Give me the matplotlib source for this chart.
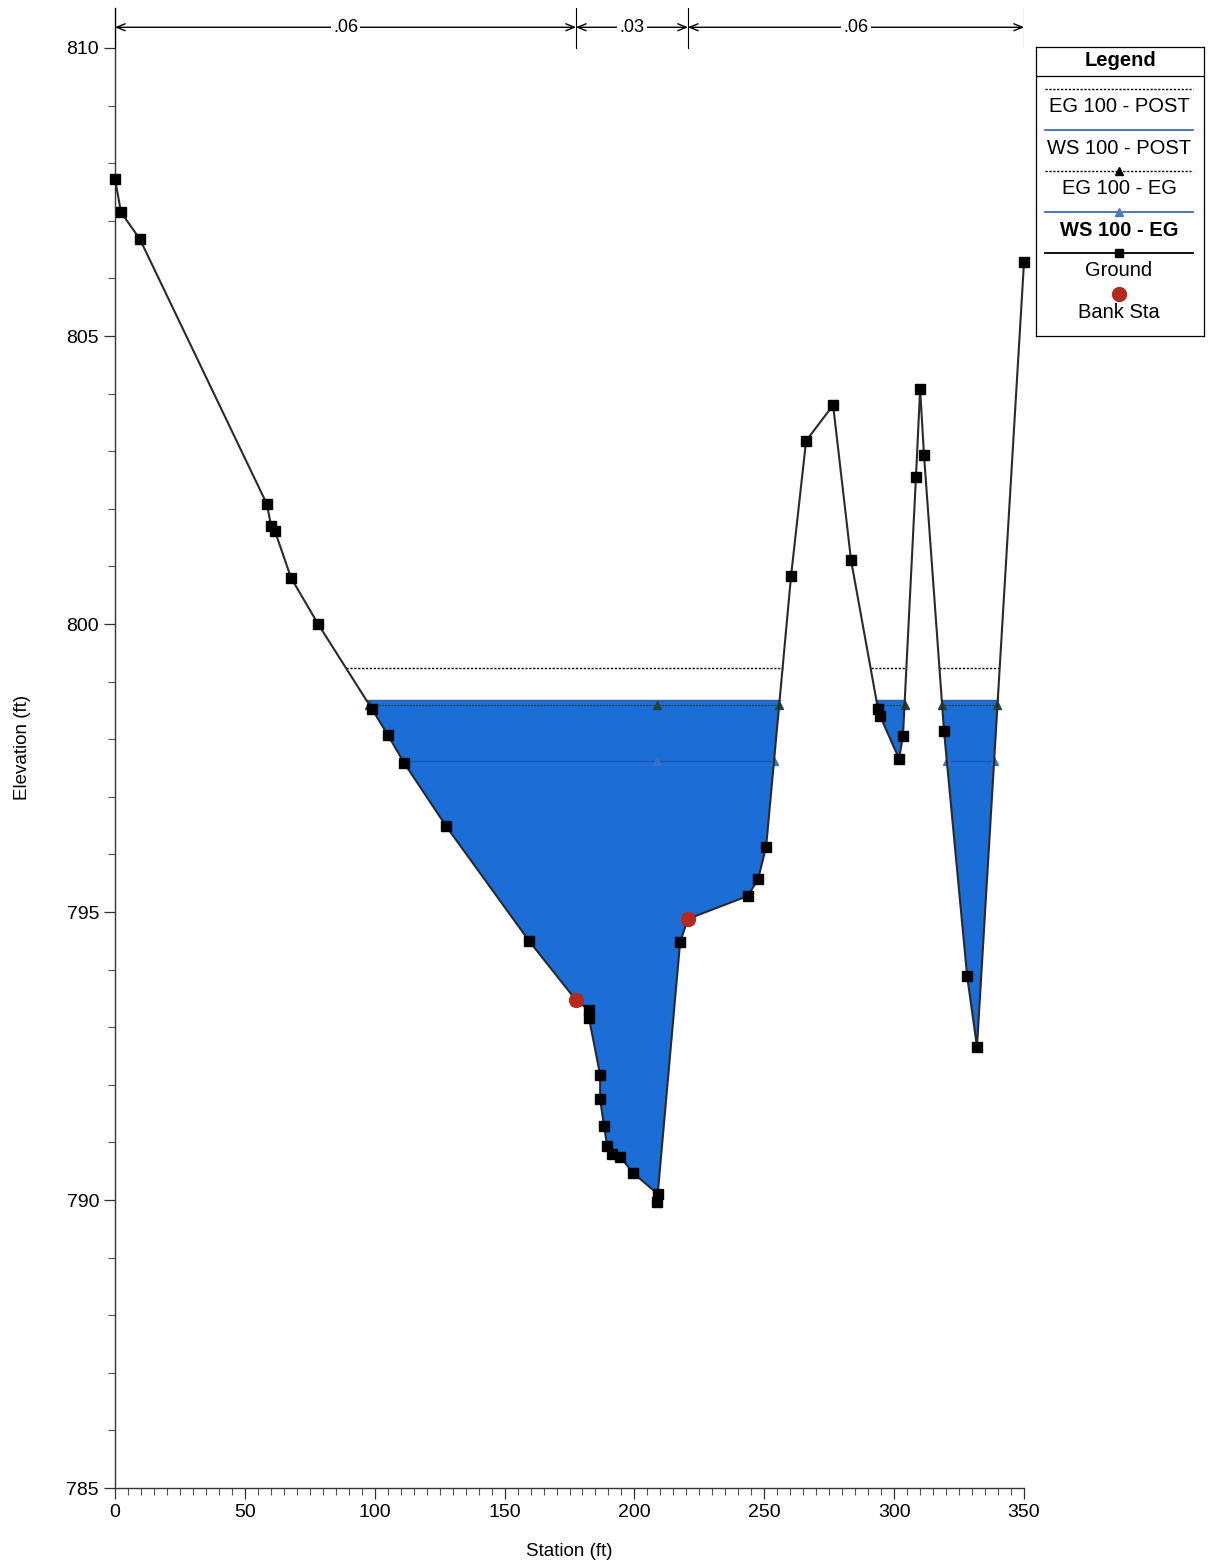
import numpy as np
import matplotlib
matplotlib.use("Agg")
import matplotlib.pyplot as plt
from matplotlib.ticker import MultipleLocator

plt.rcParams['font.family'] = ['Liberation Sans', 'DejaVu Sans']

station = [0.0, 2.3, 9.6, 58.5, 60.1, 61.6, 67.8, 78.2, 99.0, 105.1, 111.3, 127.5,
           159.4, 177.5, 182.5, 182.5, 186.8, 186.8, 188.3, 189.5, 191.4, 194.5, 199.5,
           209.1, 208.7, 217.6, 220.6, 243.7, 247.6, 250.7, 260.3, 266.1, 276.5, 283.4,
           293.8, 294.6, 301.9, 303.4, 308.4, 310.0, 311.5, 319.2, 328.1, 331.9, 350.0]
ground = [807.73, 807.15, 806.68, 802.08, 801.70, 801.61, 800.80, 800.00, 798.52,
          798.07, 797.59, 796.49, 794.50, 793.47, 793.30, 793.16, 792.17, 791.75, 791.28,
          790.94, 790.80, 790.75, 790.47, 790.10, 789.97, 794.48, 794.88, 795.28, 795.57,
          796.13, 800.83, 803.18, 803.80, 801.11, 798.52, 798.40, 797.66, 798.06,
          802.55, 804.08, 802.93, 798.14, 793.89, 792.66, 806.28]

bank_sta = [177.5, 220.6]
bank_elev = [793.47, 794.88]

eg_post = 799.24
ws_post = 798.68
eg_eg = 798.60
ws_eg = 797.62

n_bounds = [0.0, 177.5, 220.6, 350.0]
n_values = [".06", ".03", ".06"]

FILL = "#1a6ed6"
GROUND_C = "#2a2a2a"


# ---------- helpers ----------
def wet_segments(x, z, level):
    """stretches of the section where the ground is below the level"""
    segs = []
    start = None
    for i in range(len(x) - 1):
        x0, x1, z0, z1 = x[i], x[i + 1], z[i], z[i + 1]
        if start is None and z0 < level:
            start = x0
        if (z0 < level) != (z1 < level):
            t = (level - z0) / (z1 - z0)
            xc = x0 + t * (x1 - x0)
            if z0 >= level:
                start = xc
            else:
                segs.append((start, xc))
                start = None
    if start is not None:
        segs.append((start, x[-1]))
    return segs


def draw_level(ax, level, color, ls, lw, marker=None, mcolor=None, extra=None, z=3):
    for a, b in wet_segments(station, ground, level):
        ax.plot([a, b], [level, level], color=color, ls=ls, lw=lw, zorder=z)
        if marker:
            pts = [a, b]
            if extra is not None and a < extra < b:
                pts.append(extra)
            ax.plot(pts, [level] * len(pts), ls="none", marker=marker, ms=6,
                    color=mcolor, zorder=z + 0.1)


# ---------- figure ----------
fig = plt.figure(figsize=(12.10, 15.67), dpi=100)
ax = fig.add_axes([115 / 1210, 0.0504, 909 / 1210, 0.9447])

st = np.array(station)
gr = np.array(ground)
thalweg = st[np.argmin(gr)]

ax.fill_between(st, gr, ws_post, where=gr < ws_post, interpolate=True,
                color=FILL, lw=0, zorder=1)

draw_level(ax, eg_post, "black", (0, (1.6, 1.2)), 1.0)
draw_level(ax, ws_post, "#2f5fb0", "-", 1.0)
draw_level(ax, eg_eg, "#1f3a2c", (0, (1.6, 1.2)), 0.8, marker="^", mcolor="#1f4a30",
           extra=thalweg)
draw_level(ax, ws_eg, "#1f55b5", "-", 1.0, marker="^", mcolor="#3a70c0", extra=thalweg)

ax.plot(station, ground, color=GROUND_C, lw=1.5, marker="s", ms=6.5,
        mfc="black", mec="black", zorder=5, clip_on=False)
ax.plot(bank_sta, bank_elev, ls="none", marker="o", ms=10, color="#b5281c", zorder=6)

# manning's n bar across the top
n_y = 810.36
for xb in n_bounds:
    ax.plot([xb, xb], [810.0, 810.7], color="black", lw=0.8, zorder=4)
for i, label in enumerate(n_values):
    x0, x1 = n_bounds[i], n_bounds[i + 1]
    ax.annotate("", xy=(x1, n_y), xytext=(x0, n_y),
                arrowprops=dict(arrowstyle="<->,head_length=0.6,head_width=0.25",
                                lw=1.0, color="black", shrinkA=0, shrinkB=0))
    ax.text((x0 + x1) / 2, n_y, label, ha="center", va="center", fontsize=13,
            bbox=dict(facecolor="white", edgecolor="none", pad=1.5), zorder=5)

ax.set_xlim(0, 350)
ax.set_ylim(785, 810.7)
ax.xaxis.set_major_locator(MultipleLocator(50))
ax.xaxis.set_minor_locator(MultipleLocator(5))
ax.yaxis.set_major_locator(MultipleLocator(5))
ax.yaxis.set_minor_locator(MultipleLocator(1))
ax.tick_params(which="major", length=8, width=0.9, labelsize=14, color="#333333")
ax.tick_params(which="minor", length=5, width=0.8, color="#555555")
for s in ("top", "right"):
    ax.spines[s].set_visible(False)
for s in ("left", "bottom"):
    ax.spines[s].set_color("#333333")
    ax.spines[s].set_linewidth(1.0)

ax.set_xlabel("Station (ft)", fontsize=13.5)
ax.xaxis.set_label_coords(0.5, -0.037)
ax.set_ylabel("Elevation (ft)", fontsize=13.5)
ax.yaxis.set_label_coords(-0.092, 0.5)

# ---------- legend box ----------
lg = fig.add_axes([1036 / 1210, 1 - 336 / 1567, 168 / 1210, 289 / 1567])
lg.set_xlim(1036, 1204)
lg.set_ylim(336, 47)
lg.set_xticks([])
lg.set_yticks([])
for s in lg.spines.values():
    s.set_linewidth(0.9)
lg.text(1120, 61, "Legend", ha="center", va="center", fontsize=14.5, fontweight="bold")
lg.plot([1036, 1204], [76, 76], color="black", lw=0.9)

lx = [1045, 1193]
mid = 1119
lg.plot(lx, [89, 89], color="black", ls=(0, (1.6, 1.2)), lw=1.0)
lg.text(mid, 107, "EG 100 - POST", ha="center", va="center", fontsize=14.5)
lg.plot(lx, [130, 130], color="#2f5fb0", lw=1.2)
lg.text(mid, 148, "WS 100 - POST", ha="center", va="center", fontsize=14.5)
lg.plot(lx, [171, 171], color="black", ls=(0, (1.6, 1.2)), lw=1.0)
lg.plot([mid], [171], marker="^", ms=6, color="black")
lg.text(mid, 189, "EG 100 - EG", ha="center", va="center", fontsize=14.5)
lg.plot(lx, [212, 212], color="#2f5fb0", lw=1.2)
lg.plot([mid], [212], marker="^", ms=6, color="#4a7ac0")
lg.text(mid, 230, "WS 100 - EG", ha="center", va="center", fontsize=14.5, fontweight="bold")
lg.plot(lx, [253, 253], color="black", lw=1.3)
lg.plot([mid], [253], marker="s", ms=6, color="black")
lg.text(mid, 271, "Ground", ha="center", va="center", fontsize=14.5)
lg.plot([mid], [294], marker="o", ms=10, color="#b5281c")
lg.text(mid, 312, "Bank Sta", ha="center", va="center", fontsize=14.5)

fig.savefig("out.png", dpi=100)
